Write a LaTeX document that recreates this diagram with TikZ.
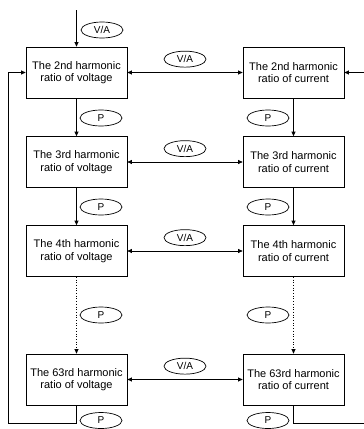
\documentclass[tikz,border=0pt]{standalone}
\usepackage{fontspec}
\setmainfont{Liberation Sans}
\usetikzlibrary{arrows.meta,shapes.geometric}

\begin{document}
\begin{tikzpicture}[x=1pt,y=-1pt,>={Triangle[length=4.5pt,width=4pt]},line width=0.7pt,
  hbox/.style={draw,minimum width=101pt,minimum height=51pt,align=center,inner sep=1pt,
    font=\fontsize{11}{12.5}\selectfont},
  unitell/.style={draw,ellipse,minimum width=42pt,minimum height=16pt,inner sep=0pt,
    font=\fontsize{10}{10}\selectfont}]
  \clip (0,0) rectangle (364,429);
  % voltage column
  \node[hbox] (v2) at (76.5,72.5) {The 2nd harmonic\\ratio of voltage};
  \node[hbox] (v3) at (76.5,162) {The 3rd harmonic\\ratio of voltage};
  \node[hbox] (v4) at (76.5,251) {The 4th harmonic\\ratio of voltage};
  \node[hbox] (v63) at (76.5,379.5) {The 63rd harmonic\\ratio of voltage};
  % current column
  \node[hbox] (c2) at (293.5,72.5) {The 2nd harmonic\\ratio of current};
  \node[hbox] (c3) at (293.5,162) {The 3rd harmonic\\ratio of current};
  \node[hbox] (c4) at (293.5,251) {The 4th harmonic\\ratio of current};
  \node[hbox] (c63) at (293.5,379.5) {The 63rd harmonic\\ratio of current};
  % V/A keys between the columns
  \foreach \n in {2,3,4,63}
    \draw[<->] (v\n) -- node[unitell,above=5pt] (va\n) {V/A} (c\n);
  % input on top
  \coordinate (vin) at (76.5,10);
  \draw[->] (vin) -- (v2);
  \node[unitell] (vatop) at (102,30) {V/A};
  % P keys down the columns
  \draw[->] (v2) -- (v3);
  \draw[->] (v3) -- (v4);
  \draw[->,dotted] (v4) -- (v63);
  \draw[->] (c2) -- (c3);
  \draw[->] (c3) -- (c4);
  \draw[->,dotted] (c4) -- (c63);
  \node[unitell] (pv2) at (101,118) {P};
  \node[unitell] (pv3) at (101,207) {P};
  \node[unitell] (pv4) at (101,315) {P};
  \node[unitell] (pv63) at (101,420.5) {P};
  \node[unitell] (pc2) at (268,118) {P};
  \node[unitell] (pc3) at (268,207) {P};
  \node[unitell] (pc4) at (268,315) {P};
  \node[unitell] (pc63) at (268,420.5) {P};
  % wrap-around lines
  \coordinate (lbot) at (8,423);
  \draw[->] (v63.south) |- (lbot) |- (v2.west);
  \coordinate (rbot) at (364,423);
  \draw (c63.south) |- (rbot);
  \coordinate (rin) at (364,72.5);
  \draw[->] (rin) -- (c2);
\end{tikzpicture}
\end{document}
